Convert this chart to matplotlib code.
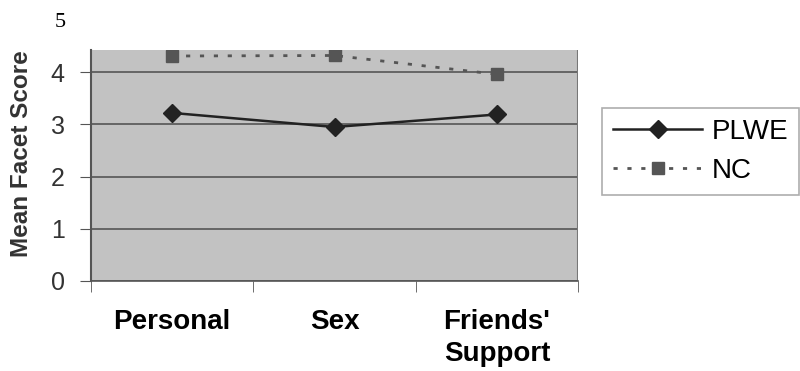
import matplotlib.pyplot as plt
import numpy as np

plt.rcParams['font.family'] = ['Liberation Sans', 'DejaVu Sans']

categories = ["Personal", "Sex", "Friends'\nSupport"]
plwe = [3.22, 2.95, 3.19]
nc = [4.31, 4.32, 3.96]
y_ticks = [0, 1, 2, 3, 4]

fig = plt.figure(figsize=(8, 3.71), dpi=100)
ax = fig.add_axes([0.11375, 0.2426, 0.60875, 0.6226])
ax.set_facecolor('#c2c2c2')

x = np.arange(len(categories))
ax.plot(x, plwe, color='#222222', lw=1.8, marker='D', markersize=9,
        markerfacecolor='#222222', markeredgecolor='#222222', label='PLWE')
ax.plot(x, nc, color='#555555', lw=2, linestyle=(0, (1.5, 3.5)), marker='s',
        markersize=9, markerfacecolor='#555555', markeredgecolor='#555555',
        label='NC')

ax.set_xlim(-0.5, len(categories) - 0.5)
ax.set_ylim(0, 4.425)
ax.set_yticks(y_ticks)
ax.set_yticklabels([str(v) for v in y_ticks], fontsize=18, color='#333333')
ax.yaxis.grid(True, color='#555555', lw=1.2)
ax.set_axisbelow(True)

# category labels centred, tick marks on the boundaries between them
ax.set_xticks(x)
ax.set_xticklabels(categories, fontsize=20, fontweight='bold', linespacing=1.3)
ax.tick_params(axis='x', length=0, pad=20)
ax.set_xticks(np.arange(len(categories) + 1) - 0.5, minor=True)
ax.tick_params(axis='x', which='minor', length=8, color='#555555')
ax.tick_params(axis='y', length=8, color='#555555', pad=11)

for side in ['top', 'right']:
    ax.spines[side].set_visible(False)
ax.spines['left'].set_color('#555555')
ax.spines['left'].set_linewidth(1.5)
ax.spines['bottom'].set_color('#555555')
ax.spines['bottom'].set_linewidth(1.2)
ax.axvline(len(categories) - 0.5, color='#777777', lw=1.5)

ax.set_ylabel('Mean Facet Score', fontsize=17.5, fontweight='bold', color='#333333')
ax.yaxis.set_label_coords(-0.119, 0.55)

# the top tick label sits above the cut-off plot area
ax.text(-0.692, 4.96, '5', fontsize=16, family='Liberation Serif',
        ha='center', va='center', clip_on=False)

leg = fig.legend(loc='upper left', bbox_to_anchor=(602 / 800, 1 - 108 / 371),
                 fontsize=20, handlelength=3.2, handletextpad=0.35,
                 labelspacing=0.45, borderpad=0.4, borderaxespad=0,
                 frameon=True, fancybox=False)
leg.get_frame().set_edgecolor('#999999')
leg.get_frame().set_linewidth(1.2)

fig.savefig('out.png', dpi=100)
